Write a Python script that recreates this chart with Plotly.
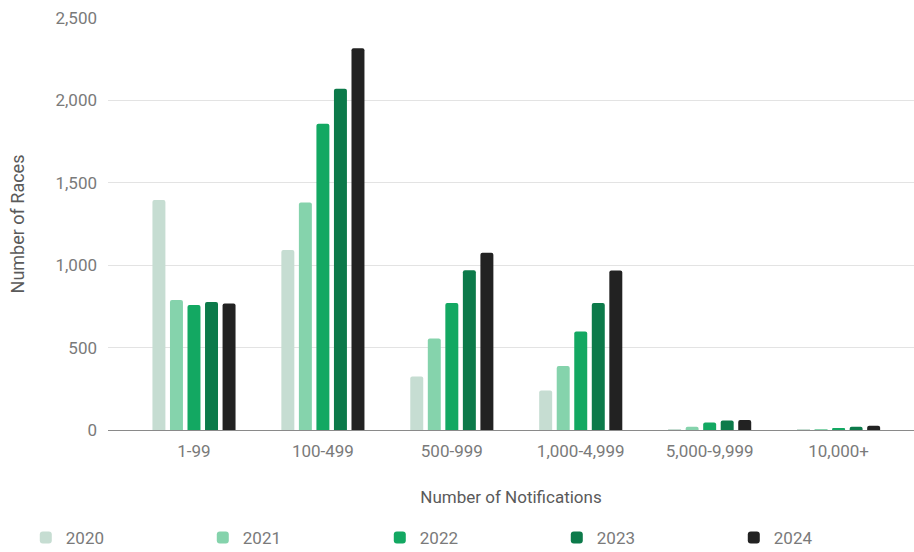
import plotly.graph_objects as go

# categories and series
categories = ["1-99", "100-499", "500-999", "1,000-4,999", "5,000-9,999", "10,000+"]
years = ["2020", "2021", "2022", "2023", "2024"]

races_2020 = [1396, 1092, 324, 239, 5, 1]
races_2021 = [789, 1381, 555, 388, 20, 3]
races_2022 = [758, 1859, 770, 597, 45, 10]
races_2023 = [777, 2071, 969, 770, 57, 20]
races_2024 = [768, 2317, 1075, 968, 61, 26]

series = [races_2020, races_2021, races_2022, races_2023, races_2024]
colors = ["#c6ddd2", "#85d3ac", "#13a862", "#0c7a4a", "#222222"]

fig = go.Figure()
for year, values, color in zip(years, series, colors):
    fig.add_trace(go.Bar(
        x=categories, y=values, name=year,
        marker=dict(color=color, line=dict(width=0), cornerradius=2),
    ))

fig.update_layout(
    width=914, height=552,
    margin=dict(l=108, r=0, t=18, b=122, autoexpand=False),
    paper_bgcolor="white", plot_bgcolor="white",
    font=dict(family="Roboto", size=17, color="#7a7a7a"),
    barmode="group", bargap=0.32, bargroupgap=0.26,
    showlegend=True,
    # legend sits below the plot area, in paper units, so it may use the full width
    legend=dict(
        orientation="h", xref="paper", yref="paper",
        x=-0.102, xanchor="left", y=-0.262, yanchor="middle",
        entrywidth=132, entrywidthmode="pixels",
        font=dict(size=17, color="#7a7a7a"),
        itemclick=False,
    ),
)

fig.update_xaxes(
    range=[-0.667, 5.585],
    showgrid=False, automargin=False,
    showline=True, linecolor="#8a8a8a", linewidth=1,
    ticks="", ticklabelstandoff=6,
    tickfont=dict(size=17, color="#7a7a7a"),
    title=dict(text="Number of Notifications", font=dict(size=17, color="#5a5a5a"), standoff=30),
)
fig.update_yaxes(
    range=[0, 2500], dtick=500, tickformat=",",
    showgrid=True, gridcolor="#e3e3e3", gridwidth=1,
    zeroline=False, showline=False, automargin=False,
    ticks="", ticklabelstandoff=10,
    tickfont=dict(size=17, color="#7a7a7a"),
    title=dict(text="Number of Races", font=dict(size=18, color="#5a5a5a"), standoff=26),
)

# the page body has a default 8px margin; drop it so the figure sits at (0, 0)
fig.write_html(
    "out.html",
    config={"displayModeBar": False},
    post_script="document.body.style.margin='0';",
)
